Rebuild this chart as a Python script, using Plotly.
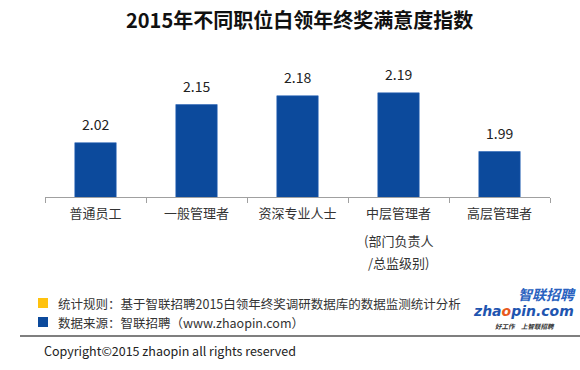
import plotly.graph_objects as go

categories = ["普通员工", "一般管理者", "资深专业人士", "中层管理者", "高层管理者"]
tick_labels = ["普通员工", "一般管理者", "资深专业人士", "中层管理者\n(部门负责人\n/总监级别)", "高层管理者"]
values = [2.02, 2.15, 2.18, 2.19, 1.99]

title = "2015年不同职位白领年终奖满意度指数"
note_rule = "统计规则：基于智联招聘2015白领年终奖调研数据库的数据监测统计分析"
note_src = "数据来源：智联招聘（www.zhaopin.com）"
copyright_txt = "Copyright©2015 zhaopin all rights reserved"

W, H = 580, 370
L, R, T, B = 45, 30, 60, 173
PW, PH = W - L - R, H - T - B

def X(px):
    return (px - L) / PW

def Y(py):
    return (H - B - py) / PH

CJK = "Noto Sans CJK SC"
BLUE = "#0C4A9C"
LBL = "#333"

fig = go.Figure()
fig.add_trace(go.Bar(
    x=categories, y=values, width=0.41,
    marker=dict(color=BLUE, line=dict(color="#2A64B8", width=0.6)),
    hoverinfo="x+y",
))

ann = []
for c, v in zip(categories, values):
    ann.append(dict(x=c, y=v, xref="x", yref="y", text=f"{v:.2f}", showarrow=False,
                    yanchor="bottom", yshift=7, font=dict(family=CJK, size=14, color="#222")))

# first line of each label as tick text; further lines as text below with wider spacing
first_lines = [t.split("\n")[0] for t in tick_labels]
for c, t in zip(categories, tick_labels):
    for i, line in enumerate(t.split("\n")[1:], start=1):
        ann.append(dict(x=c, y=Y(218 + 22 * i), xref="x", yref="paper", text=line, showarrow=False,
                        xanchor="center", yanchor="middle", borderpad=0,
                        font=dict(family=CJK, size=13, color=LBL)))

ann.append(dict(x=X(299), y=Y(20), xref="paper", yref="paper", text=f"<b>{title}</b>",
                showarrow=False, xanchor="center", yanchor="middle",
                font=dict(family=CJK, size=20, color="#111")))
ann.append(dict(x=X(56), y=Y(303), xref="paper", yref="paper", text=note_rule, showarrow=False,
                xanchor="left", yanchor="middle", font=dict(family=CJK, size=12.5, color="#333")))
ann.append(dict(x=X(56), y=Y(322), xref="paper", yref="paper", text=note_src, showarrow=False,
                xanchor="left", yanchor="middle", font=dict(family=CJK, size=12.5, color="#333")))
ann.append(dict(x=X(42), y=Y(350), xref="paper", yref="paper", text=copyright_txt, showarrow=False,
                xanchor="left", yanchor="middle", font=dict(family=CJK, size=12.5, color="#222")))
# logo
ann.append(dict(x=X(577), y=Y(294), xref="paper", yref="paper", text="<b><i>智联招聘</i></b>", showarrow=False,
                xanchor="right", yanchor="middle", borderpad=0,
                font=dict(family=CJK, size=14, color="#2A62C0")))
ann.append(dict(x=X(575), y=Y(311), xref="paper", yref="paper",
                text="<b><i>zha<span style='color:#E85A1E'>o</span>pin.com</i></b>", showarrow=False,
                xanchor="right", yanchor="middle", borderpad=0,
                font=dict(family="DejaVu Sans", size=14, color="#1F55B0")))
ann.append(dict(x=X(525), y=Y(326), xref="paper", yref="paper", text="<b><i>好工作　上智联招聘</i></b>", showarrow=False,
                xanchor="center", yanchor="middle", borderpad=0,
                font=dict(family=CJK, size=6.5, color="#333")))

shapes = [
    dict(type="rect", xref="paper", yref="paper", x0=X(38), x1=X(48), y0=Y(308), y1=Y(298),
         fillcolor="#FFC20E", line=dict(width=0)),
    dict(type="rect", xref="paper", yref="paper", x0=X(38), x1=X(48), y0=Y(327), y1=Y(317),
         fillcolor=BLUE, line=dict(width=0)),
    dict(type="line", xref="paper", yref="paper", x0=X(20), x1=X(580), y0=Y(336), y1=Y(336),
         line=dict(color="#555", width=1.5)),
]

fig.update_layout(
    width=W, height=H, margin=dict(l=L, r=R, t=T, b=B),
    paper_bgcolor="white", plot_bgcolor="white",
    showlegend=False, annotations=ann, shapes=shapes,
    xaxis=dict(tickmode="array", tickvals=categories, ticktext=first_lines,
               showline=True, linecolor="#A0A0A0", linewidth=1,
               ticks="outside", tickson="boundaries", ticklen=5, tickcolor="#A0A0A0",
               tickfont=dict(family=CJK, size=13, color=LBL), ticklabelstandoff=4,
               showgrid=False, zeroline=False, fixedrange=True),
    yaxis=dict(range=[1.835, 2.302], visible=False, showgrid=False, zeroline=False, fixedrange=True),
)

fig.write_html("out.html", config={"displayModeBar": False},
               post_script="document.body.style.margin='0';")
